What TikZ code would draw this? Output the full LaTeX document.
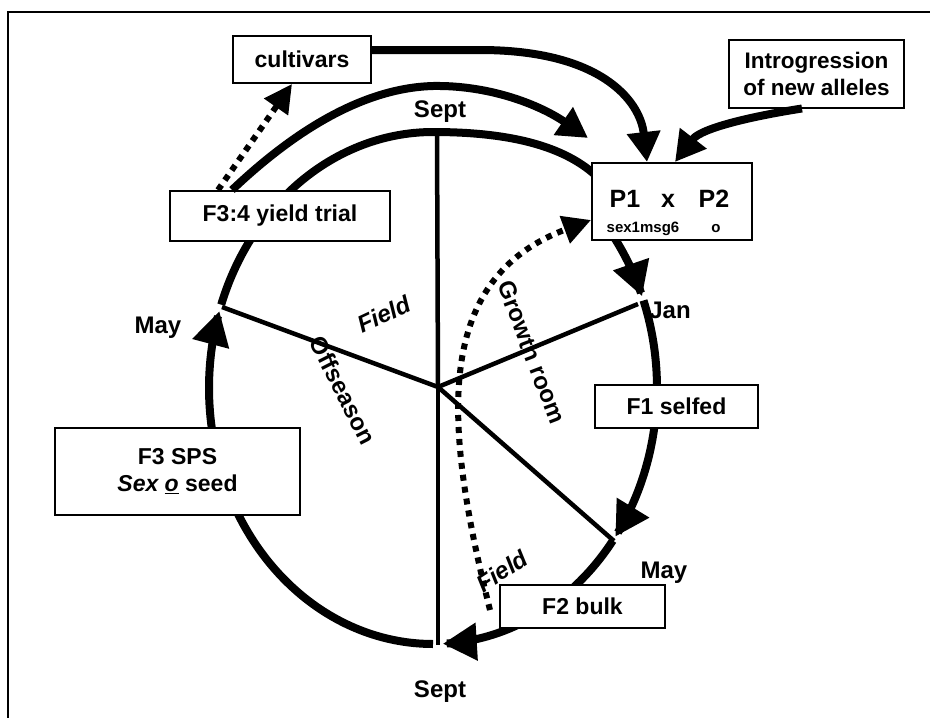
\documentclass[tikz,border=0pt]{standalone}
\usepackage{fontspec}
\setmainfont{Liberation Sans}
\usetikzlibrary{arrows.meta}
\begin{document}
\begin{tikzpicture}[x=1pt,y=-1pt,
  box/.style={draw=black, line width=2pt, fill=white, inner sep=0pt, font=\fontsize{23}{27}\selectfont\bfseries, align=center},
  lbl/.style={font=\fontsize{24}{28}\selectfont\bfseries, inner sep=0pt},
  big/.style={font=\fontsize{25}{28}\selectfont\bfseries, inner sep=0pt, anchor=base},
  small/.style={font=\fontsize{15}{17}\selectfont\bfseries, inner sep=0pt, anchor=base},
  ring/.style={line width=8pt},
  spoke/.style={line width=4.5pt},
  bigtip/.style={-{Triangle[length=34pt,width=36pt]}},
  medtip/.style={-{Triangle[length=30pt,width=32pt]}},
  dots/.style={line width=6pt, dash pattern=on 6pt off 6pt},
  dottip/.style={-{Triangle[length=28pt,width=28pt]}},
]
\useasboundingbox (0,0) rectangle (930,718);
% frame
\draw[line width=2pt] (8,740) -- (8,12) -- (950,12);

% spokes
\coordinate (c) at (438,387);
\coordinate (sTop) at (437,132);
\coordinate (sJan) at (638,304);
\coordinate (sMay) at (614,541);
\coordinate (sBot) at (438,645);
\coordinate (sLeft) at (222,307);
\foreach \p in {sTop,sJan,sMay,sBot,sLeft} \draw[spoke] (c) -- (\p);

% ring
\draw[ring] plot[domain=161:90, samples=60, variable=\t] ({433+224*cos(\t)}, {388-256*sin(\t)})
   .. controls (520,132) and (575,150) .. (605,185) .. controls (620,205) and (618,225) .. (616,238);
\draw[ring, bigtip] plot[domain=36:21, samples=20, variable=\t] ({433+224*cos(\t)}, {388-256*sin(\t)});
\draw[ring, bigtip] plot[domain=20:-35.5, samples=50, variable=\t] ({433+224*cos(\t)}, {388-256*sin(\t)});
\draw[ring, bigtip] plot[domain=-36.6:-87.5, samples=50, variable=\t] ({433+224*cos(\t)}, {388-256*sin(\t)});
\draw[ring, bigtip] plot[domain=270:162.5, samples=90, variable=\t] ({433+224*cos(\t)}, {388-256*sin(\t)});

% boxes
\node[box, minimum width=138pt, minimum height=47pt] (cult) at (302,59.5) {cultivars};
\node[box, minimum width=175pt, minimum height=68pt, font=\fontsize{22.5}{27}\selectfont\bfseries] (intro) at (816.5,73.5) {Introgression\\of new alleles};
\node[box, minimum width=160pt, minimum height=77pt] (p1p2) at (672,201.5) {};
\node[box, minimum width=220pt, minimum height=50pt] (yield) at (280,216) {F3:4 yield trial};
\node[box, minimum width=163pt, minimum height=43pt] (f1) at (676.5,406.5) {F1 selfed};
\node[box, minimum width=245pt, minimum height=87pt] (f3) at (177.5,471.5) {F3 SPS\\\textit{Sex \underline{o}} seed};
\node[box, minimum width=165pt, minimum height=43pt] (f2) at (582.5,606.5) {F2 bulk};

% texts in P1 x P2 box
\node[big] (p1) at (625,207) {P1};
\node[big] (px) at (668,207) {x};
\node[big] (p2) at (714,207) {P2};
\node[small] (sx) at (643,232) {sex1msg6};
\node[small] (so) at (716,232) {o};

% connectors
\coordinate (outerTip) at (588,138);
\draw[ring, medtip] (yield.north -| 232,0) .. controls (290,135) and (360,88) .. (433,86)
   .. controls (490,85) and (540,105) .. (outerTip);
\draw[ring, medtip] (cult.east |- 0,50) -- (480,50) .. controls (600,50) and (640,100) .. (p1p2.north -| 647,0);
\draw[ring, medtip] (intro.south -| 802,0) .. controls (760,115) and (702,127) .. (p1p2.north -| 675,0);
\draw[dots, dottip] (yield.north -| 218,0) -- (cult.south -| 292,0);
\coordinate (dotStart) at (490,610);
\draw[dots, dottip] (dotStart) .. controls (445,430) and (430,280) .. (p1p2.west |- 0,220);

% labels
\node[lbl] (septT) at (440,112) {Sept};
\node[lbl] (jan) at (670,310) {Jan};
\node[lbl] (mayR) at (664,573) {May};
\node[lbl] (septB) at (440,692) {Sept};
\node[lbl] (mayL) at (158,328) {May};
\node[lbl, rotate=25] (field1) at (384,314) {\textit{Field}};
\node[lbl, rotate=-69] (growth) at (532,352) {Growth room};
\node[lbl, rotate=-63] (offs) at (343,390) {Offseason};
\node[lbl, rotate=33] (field2) at (502,571) {\textit{Field}};
\end{tikzpicture}
\end{document}
